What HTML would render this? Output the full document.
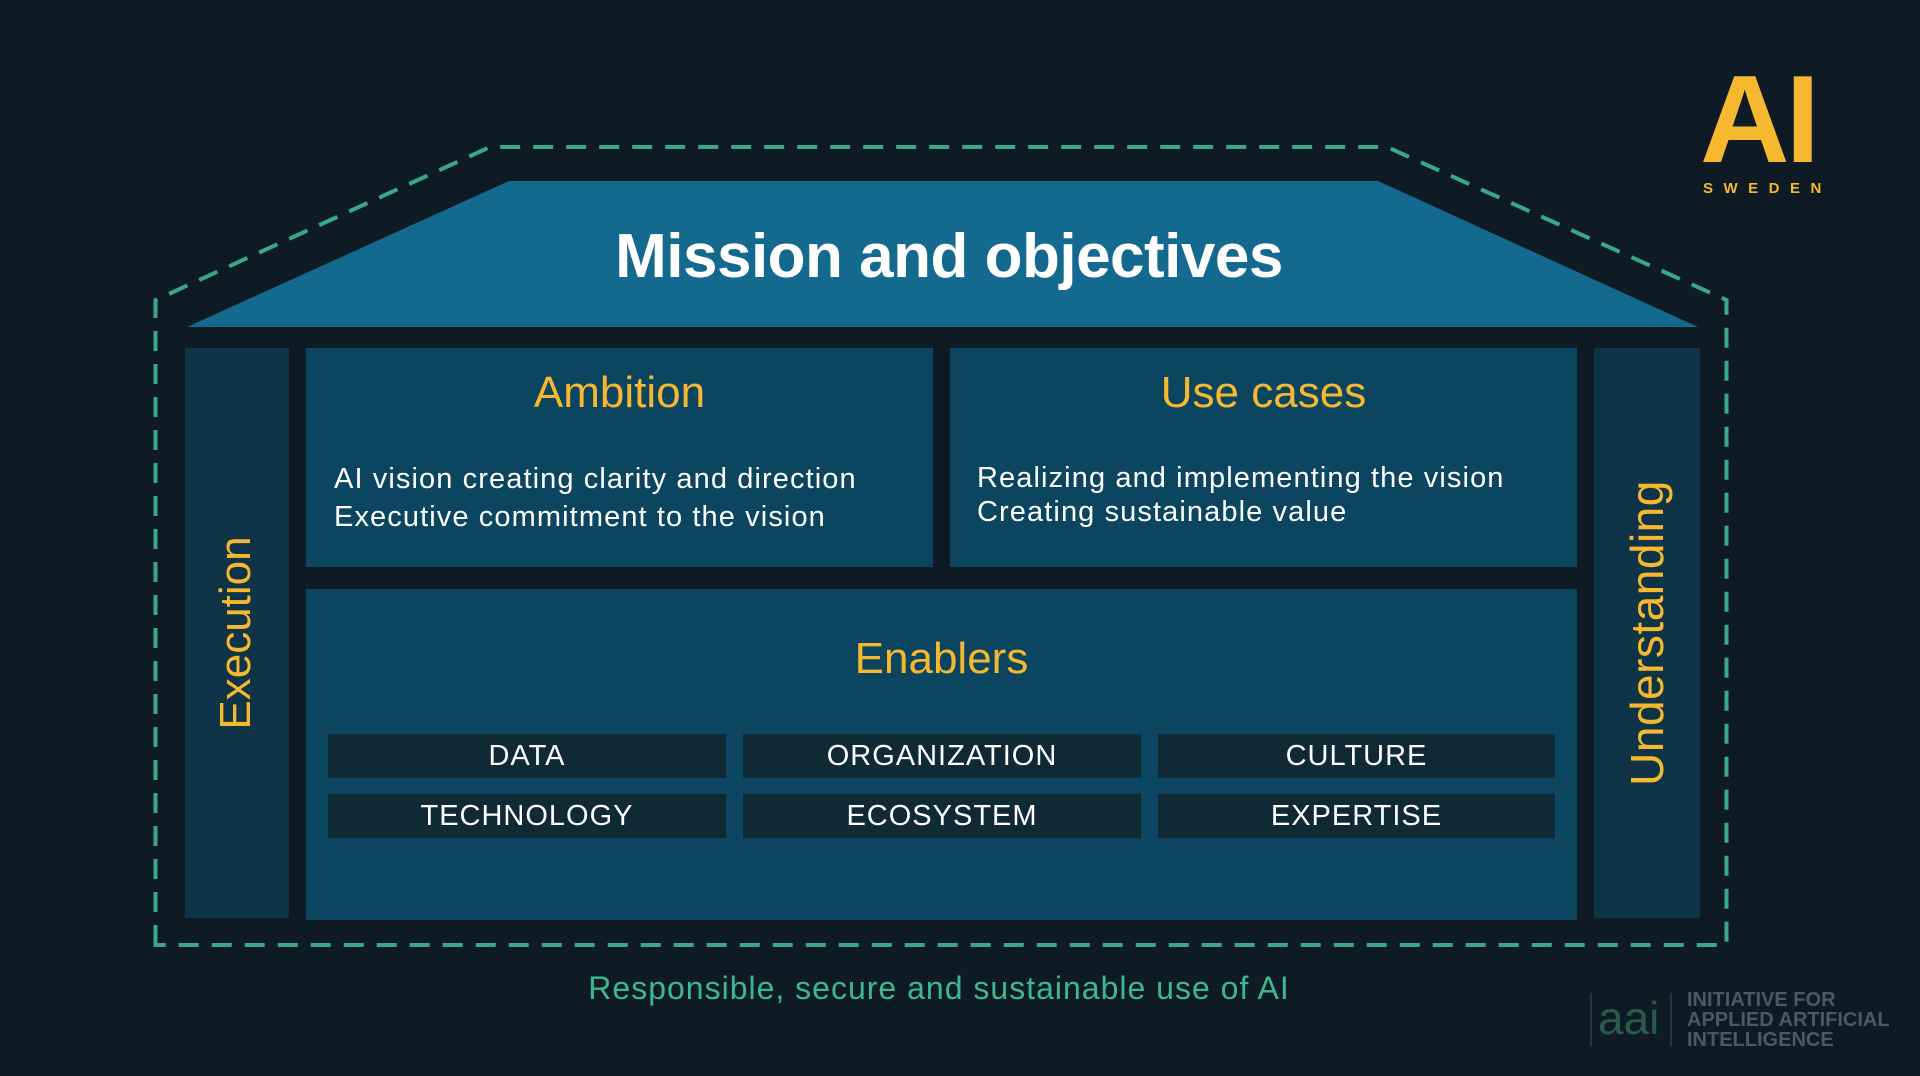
<!DOCTYPE html>
<html><head><meta charset="utf-8"><style>
*{margin:0;padding:0;box-sizing:border-box}
body{width:1920px;height:1076px;background:#0f1b24;position:relative;overflow:hidden;font-family:"Liberation Sans",sans-serif}
.a{position:absolute}
.box{background:#0b4560}
.side{background:#0f3447}
.pill{position:absolute;background:#0f2935;color:#fff;font-size:29px;text-align:center;line-height:44px;height:44px;letter-spacing:1px}
.gold{color:#f5b82e}
.t{position:absolute;text-align:center;width:100%}
.body{position:absolute;color:#fff;font-size:29px;line-height:38px;white-space:nowrap;letter-spacing:1.1px}
</style></head><body>
<svg class="a" style="left:0;top:0" width="1920" height="1076">
<polygon points="509,181 1378,181 1698,327 187,327" fill="#136a8e"/>
<path d="M155.5,945 L155.5,300 L490,147 L1387,147 L1726.5,300 L1726.5,945 Z" fill="none" stroke="#3aa888" stroke-width="4" stroke-dasharray="20,13"/>
</svg>
<div class="t" style="top:221px;color:#fff;font-size:62px;font-weight:bold;left:0;width:1898px;letter-spacing:-0.5px">Mission and objectives</div>
<div class="a side" style="left:185px;top:348px;width:104px;height:570px"></div>
<div class="a side" style="left:1594px;top:348px;width:106px;height:570px"></div>
<div class="a box" style="left:306px;top:348px;width:627px;height:219px">
 <div class="t gold" style="top:20px;font-size:44px">Ambition</div>
 <div class="body" style="left:28px;top:112px">AI vision creating clarity and direction<br>Executive commitment to the vision</div>
</div>
<div class="a box" style="left:950px;top:348px;width:627px;height:219px">
 <div class="t gold" style="top:20px;font-size:44px">Use cases</div>
 <div class="body" style="left:27px;top:113px;line-height:34px">Realizing and implementing the vision<br>Creating sustainable value</div>
</div>
<div class="a box" style="left:306px;top:589px;width:1271px;height:331px">
 <div class="t gold" style="top:45px;font-size:44px">Enablers</div>
</div>
<div class="pill" style="left:328px;top:734px;width:398px">DATA</div>
<div class="pill" style="left:743px;top:734px;width:398px">ORGANIZATION</div>
<div class="pill" style="left:1158px;top:734px;width:397px">CULTURE</div>
<div class="pill" style="left:328px;top:794px;width:398px">TECHNOLOGY</div>
<div class="pill" style="left:743px;top:794px;width:398px">ECOSYSTEM</div>
<div class="pill" style="left:1158px;top:794px;width:397px">EXPERTISE</div>
<div class="a gold" style="left:236px;top:633px;font-size:44px;transform:translate(-50%,-50%) rotate(-90deg);white-space:nowrap">Execution</div>
<div class="a gold" style="left:1647px;top:633px;font-size:46px;transform:translate(-50%,-50%) rotate(-90deg);white-space:nowrap;letter-spacing:0.5px">Understanding</div>
<div class="t" style="top:970px;left:0;width:1878px;color:#3db88e;font-size:32px;letter-spacing:1px">Responsible, secure and sustainable use of AI</div>
<div class="a gold" style="left:1700px;top:58px;font-size:124px;font-weight:bold;line-height:124px;letter-spacing:-4px">AI</div>
<div class="a gold" style="left:1703px;top:180px;font-size:15px;letter-spacing:10.5px;font-weight:bold">SWEDEN</div>
<div class="a" style="left:1590px;top:993px;width:82px;height:53px;border:2px solid #1f3a40;border-top:none;border-bottom:none"></div>
<div class="a" style="left:1598px;top:995px;color:#2b5a48;font-size:46px;line-height:46px">aai</div>
<div class="a" style="left:1687px;top:990px;color:#4a5a63;font-size:20px;font-weight:bold;line-height:20px">INITIATIVE FOR<br>APPLIED ARTIFICIAL<br>INTELLIGENCE</div>
</body></html>
